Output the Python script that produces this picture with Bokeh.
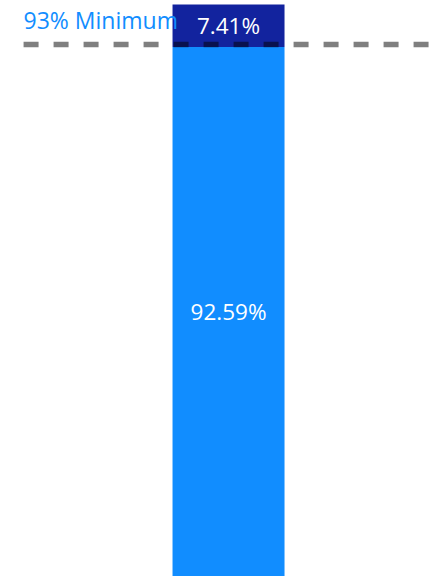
from bokeh.plotting import figure
from bokeh.models import Range1d, ColumnDataSource
from bokeh.core.properties import value
from bokeh.embed import file_html
from bokeh.resources import INLINE

# ---- data ----
categories = ["Compliance"]
met_pct = [92.59]
gap_pct = [7.41]
minimum_pct = 93
minimum_label = "93% Minimum"

FONT = value("Open Sans")

xs = list(range(len(categories)))
tops = [m + g for m, g in zip(met_pct, gap_pct)]
src = ColumnDataSource(dict(
    x=xs,
    cat=categories,
    met=met_pct,
    gap=gap_pct,
    top=tops,
    met_mid=[m / 2 for m in met_pct],
    gap_mid=[m + g / 2 for m, g in zip(met_pct, gap_pct)],
    met_txt=[f"{m:.2f}%" for m in met_pct],
    gap_txt=[f"{g:.2f}%" for g in gap_pct],
))

p = figure(width=435, height=576, output_backend="svg", toolbar_location=None,
           x_range=Range1d(-2.036, 1.848), y_range=Range1d(0, 100.7),
           min_border=0)
p.axis.visible = False
p.grid.visible = False
p.outline_line_color = None
p.background_fill_color = "white"
p.border_fill_color = "white"

p.vbar(x="x", bottom=0, top="met", width=1, source=src,
       fill_color="#118DFF", line_color=None)
p.vbar(x="x", bottom="met", top="top", width=1, source=src,
       fill_color="#12239E", line_color=None)

p.text(x="x", y="met_mid", text="met_txt", source=src,
       text_align="center", text_baseline="middle", text_color="white",
       text_font=FONT, text_font_size="22.5px")
p.text(x="x", y="gap_mid", text="gap_txt", source=src,
       text_align="center", text_baseline="middle", text_color="white",
       text_font=FONT, text_font_size="22.5px")

# minimum line
line_x0, line_x1 = -1.83, 1.786
p.segment(x0=[line_x0], x1=[line_x1], y0=[minimum_pct], y1=[minimum_pct],
          line_color="black", line_alpha=0.5, line_width=5.5,
          line_dash="15 15", line_cap="butt")

p.text(x=[line_x0], y=[minimum_pct], text=[minimum_label],
       text_align="left", text_baseline="middle", y_offset=-25,
       text_color="#118DFF", text_font=FONT, text_font_size="23px")

open("out.html", "w").write(file_html(p, INLINE))
